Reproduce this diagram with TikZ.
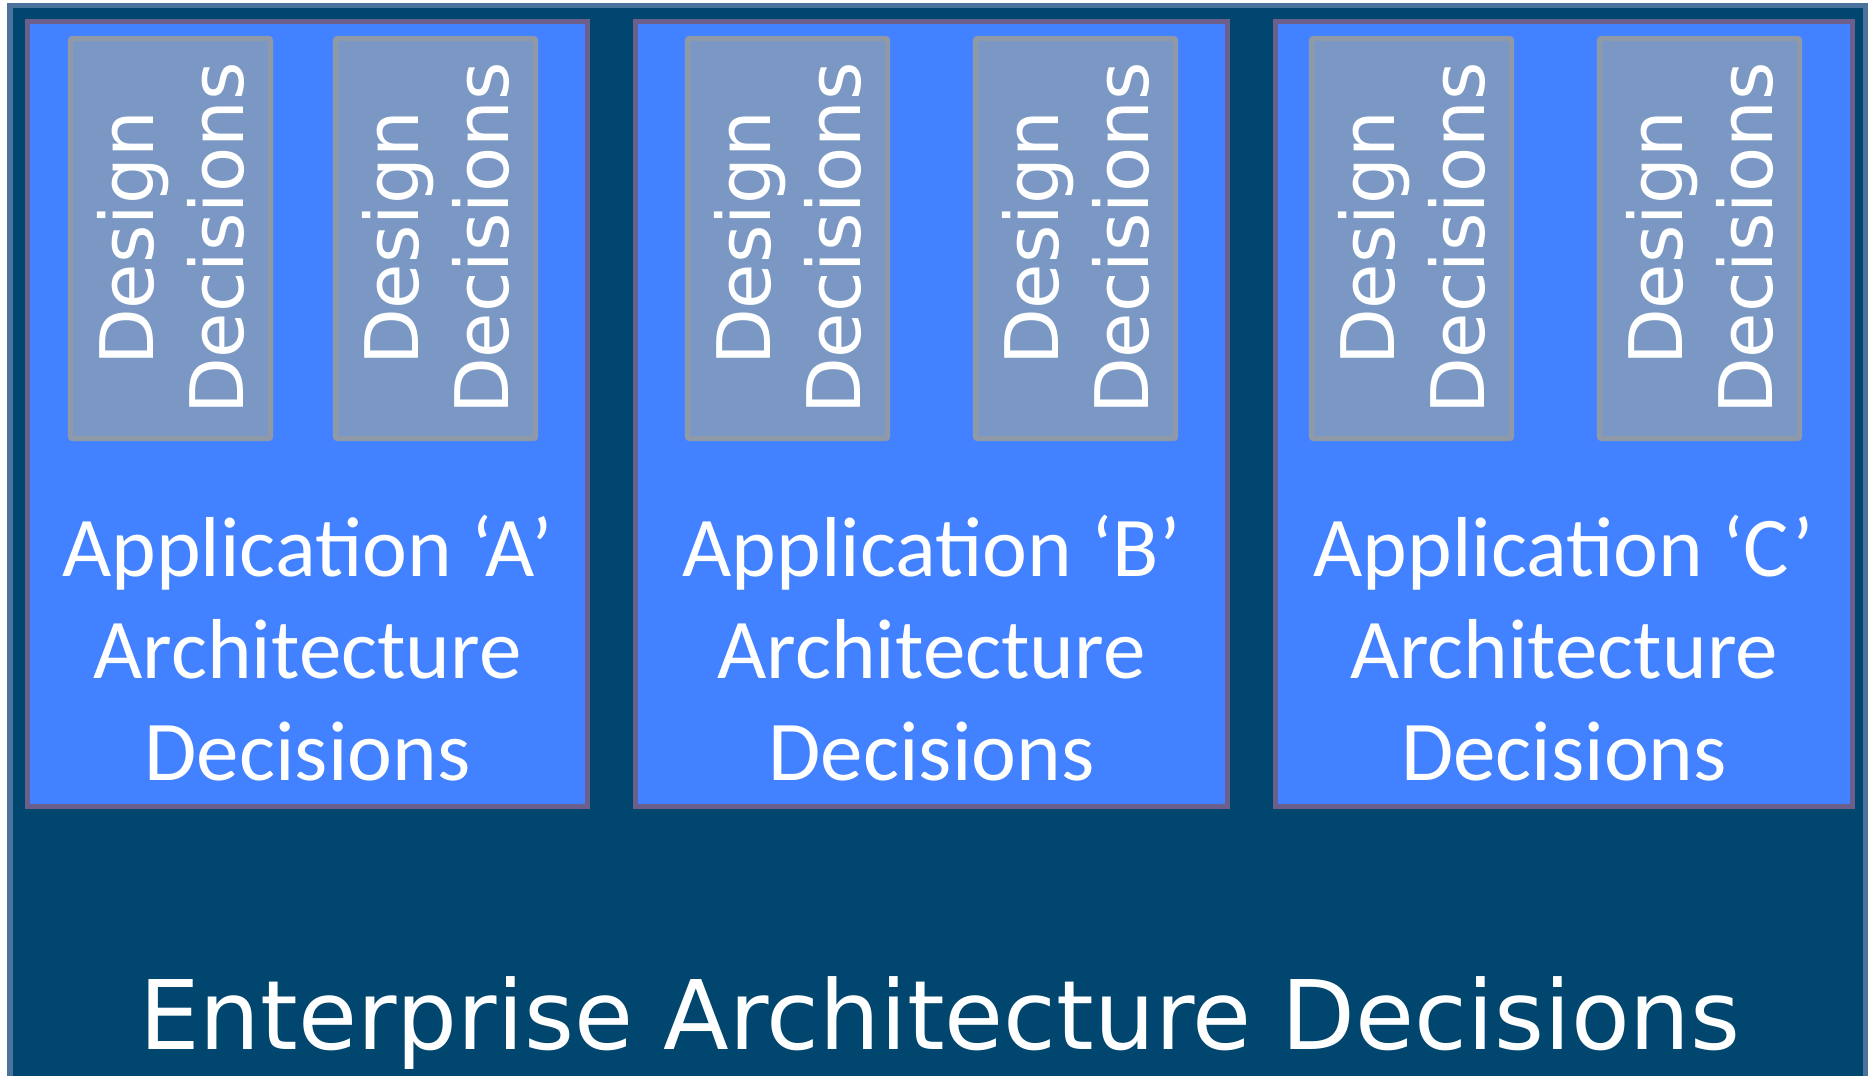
\documentclass[tikz,border=0pt]{standalone}
\usepackage{fontspec}
\setmainfont{Carlito}
\newfontfamily\dejavu{DejaVu Sans}
\usetikzlibrary{positioning}

\definecolor{entfill}{HTML}{00466E}
\definecolor{entborder}{HTML}{4A729C}
\definecolor{appfill}{HTML}{4281FF}
\definecolor{appborder}{HTML}{6C5F8C}
\definecolor{desfill}{HTML}{7B98C4}
\definecolor{desborder}{HTML}{9099A8}

\tikzset{
  entbox/.style={draw=entborder, fill=entfill, line width=0.055cm},
  appbox/.style={draw=appborder, fill=appfill, line width=0.053cm, minimum height=7.847cm},
  designbox/.style={draw=desborder, fill=desfill, line width=0.05cm, rounded corners=0.02cm,
    rotate=90, minimum width=4cm, minimum height=2cm, align=center, text=white,
    font=\dejavu\fontsize{21}{25.6}\selectfont},
  apptext/.style={align=center, text=white, font=\fontsize{24.2}{28.9}\selectfont},
  enttext/.style={text=white, inner sep=0pt, font=\dejavu\fontsize{27.3}{32}\selectfont}
}

\begin{document}
\begin{tikzpicture}[x=0.01cm, y=-0.01cm]
        \useasboundingbox (0,0) rectangle (1868,1076);
        \fill[white] (0,0) rectangle (1868,1076);
        \node[entbox, minimum width=18.545cm, minimum height=10.9425cm] (ent) at (938,552.9) {};
        % application boxes
        \node[appbox, minimum width=5.597cm] (appA) at (307.5,414) {};
        \node[appbox, minimum width=5.917cm] (appB) at (931.5,414) {};
        \node[appbox, minimum width=5.767cm] (appC) at (1564,414) {};
        % design boxes
        \foreach \d/\x in {A1/170.5, A2/435.5, B1/787.5, B2/1075.5, C1/1411.5, C2/1699.5}
            \node[designbox] (des\d) at (\x,238.5) {Design\\Decisions};
        % labels
        \foreach \a in {A, B, C}
            \node[apptext] (lbl\a) at (app\a |- 0,648) {Application ‘\a’\\Architecture\\Decisions};
        \node[enttext, anchor=base] (lblEnt) at (940,1050) {Enterprise Architecture Decisions};
    \end{tikzpicture}
\end{document}
